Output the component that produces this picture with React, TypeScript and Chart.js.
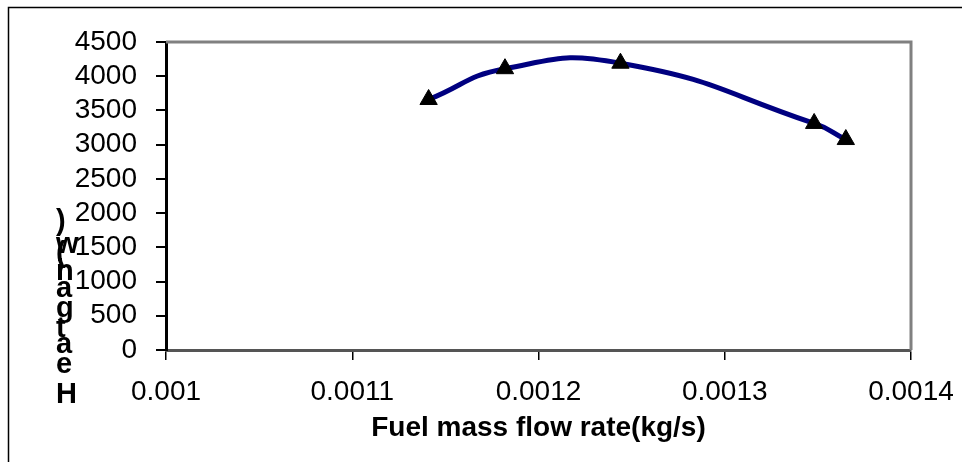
import React, { useEffect, useRef } from "react";
import { Chart, registerables } from "chart.js";

Chart.register(...registerables);

const fuelFlow = [0.001141, 0.001182, 0.001244, 0.001348, 0.001365];
const heatGain = [3660, 4110, 4190, 3310, 3075];
const xTicks = [0.001, 0.0011, 0.0012, 0.0013, 0.0014];
const xTickLabels = ["0.001", "0.0011", "0.0012", "0.0013", "0.0014"];
const yTicks = [0, 500, 1000, 1500, 2000, 2500, 3000, 3500, 4000, 4500];
const yTickLabels = ["0", "500", "1000", "1500", "2000", "2500", "3000", "3500", "4000", "4500"];
const xTitle = "Fuel mass flow rate(kg/s)";
const yTitle = "Heat gain(w)";

const FONT = "'Liberation Sans', Arial, sans-serif";

const decorPlugin = {
  id: "decor",
  beforeDraw(chart: any) {
    const ctx = chart.ctx;
    ctx.save();
    ctx.strokeStyle = "#000";
    ctx.lineWidth = 1.5;
    ctx.beginPath();
    ctx.moveTo(8.5, 470);
    ctx.lineTo(8.5, 7.5);
    ctx.lineTo(970, 7.5);
    ctx.stroke();
    ctx.restore();
  },
  afterDraw(chart: any) {
    const ctx = chart.ctx;
    const a = chart.chartArea;
    ctx.save();
    ctx.strokeStyle = "#808080";
    ctx.lineWidth = 3;
    ctx.beginPath();
    ctx.moveTo(a.left, a.top);
    ctx.lineTo(a.right, a.top);
    ctx.lineTo(a.right, a.bottom);
    ctx.stroke();
    // stacked y-axis title, glyphs upright, bottom to top
    ctx.fillStyle = "#000";
    ctx.font = `bold 29px ${FONT}`;
    ctx.textAlign = "left";
    ctx.textBaseline = "alphabetic";
    const baselines = [403, 373, 353, 337, 325, 317, 297, 280, 280, 262, 253, 230];
    const chars = Array.from(yTitle);
    chars.forEach((c, i) => {
      if (c === " ") return;
      ctx.fillText(c, 56, baselines[i]);
    });
    ctx.restore();
  },
};

export default function App() {
  const ref = useRef<HTMLCanvasElement | null>(null);
  useEffect(() => {
    if (!ref.current) return;
    const chart = new Chart(ref.current, {
      type: "scatter",
      data: {
        datasets: [
          {
            data: fuelFlow.map((x, i) => ({ x, y: heatGain[i] })),
            showLine: true,
            borderColor: "#000080",
            borderWidth: 5,
            tension: 0.5,
            pointStyle: "triangle",
            pointRadius: 10,
            pointBackgroundColor: "#000",
            pointBorderColor: "#000",
            pointBorderWidth: 1,
          },
        ],
      },
      options: {
        animation: false,
        responsive: true,
        maintainAspectRatio: false,
        layout: { padding: { left: 0, right: 51, top: 42, bottom: 0 } },
        plugins: { legend: { display: false }, tooltip: { enabled: false } },
        scales: {
          x: {
            type: "linear",
            min: 0.001,
            max: 0.0014,
            afterBuildTicks: (s: any) => {
              s.ticks = xTicks.map((v) => ({ value: v }));
            },
            afterFit: (s: any) => {
              s.height = 112;
              s.paddingLeft = 0;
              s.paddingRight = 0;
            },
            ticks: {
              callback: (_v: any, i: number) => xTickLabels[i],
              font: { family: FONT, size: 28 },
              color: "#000",
              padding: 15,
              maxRotation: 0,
              autoSkip: false,
            },
            grid: {
              drawOnChartArea: false,
              tickLength: 10,
              color: "#000",
              lineWidth: 1.5,
            },
            border: { display: true, color: "#555", width: 3 },
            title: {
              display: true,
              text: xTitle,
              font: { family: FONT, size: 28, weight: "bold" },
              color: "#000",
              padding: { top: 0, bottom: 17 },
            },
          },
          y: {
            min: 0,
            max: 4500,
            afterBuildTicks: (s: any) => {
              s.ticks = yTicks.map((v) => ({ value: v }));
            },
            afterFit: (s: any) => {
              s.width = 166;
              s.paddingTop = 0;
              s.paddingBottom = 0;
            },
            ticks: {
              callback: (_v: any, i: number) => yTickLabels[i],
              font: { family: FONT, size: 28 },
              color: "#000",
              padding: 19,
              autoSkip: false,
            },
            grid: {
              drawOnChartArea: false,
              tickLength: 10,
              color: "#000",
              lineWidth: 2,
            },
            border: { display: true, color: "#000", width: 3 },
          },
        },
      },
      plugins: [decorPlugin],
    });
    return () => chart.destroy();
  }, []);
  return (
    <div style={{ position: "fixed", left: 0, top: 0, width: 962, height: 462, background: "#fff" }}>
      <canvas ref={ref} />
    </div>
  );
}
